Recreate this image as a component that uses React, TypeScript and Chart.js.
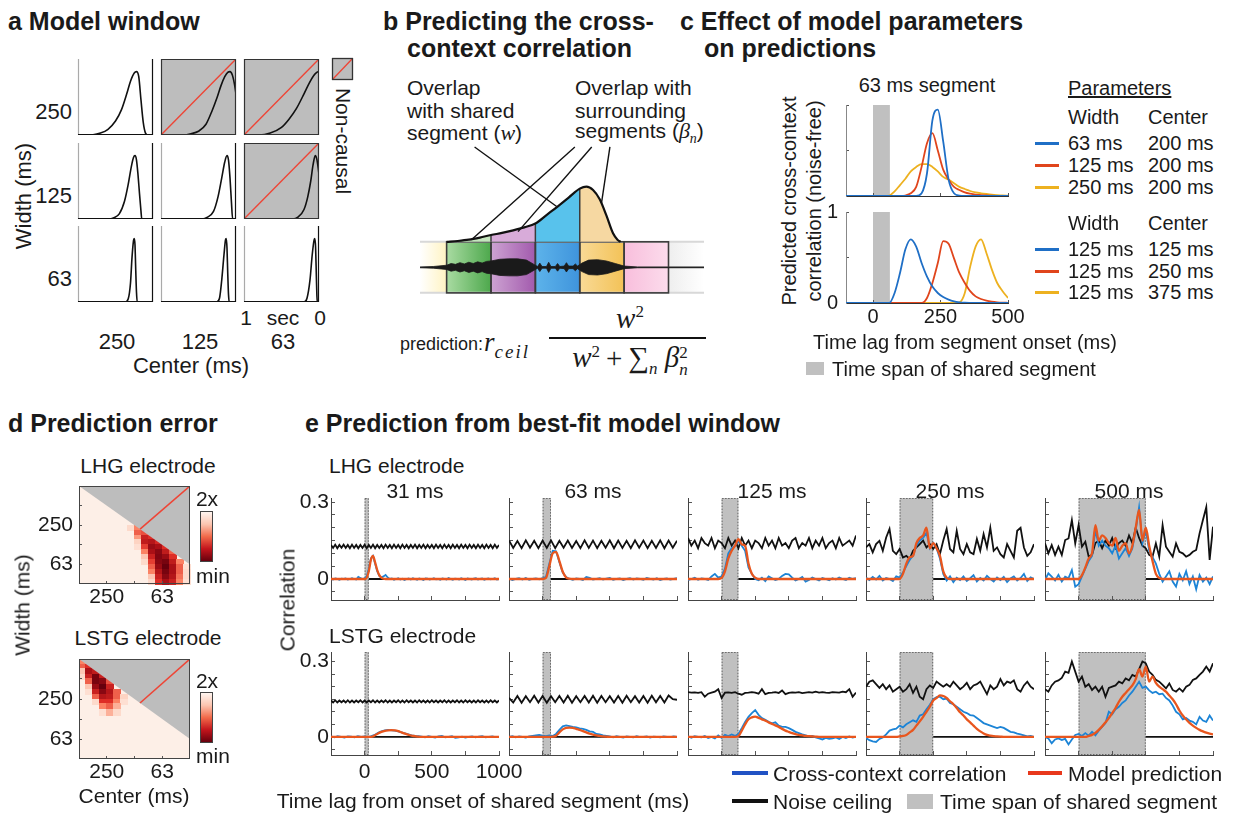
import React, { useEffect, useRef } from 'react';
import { Chart, registerables } from 'chart.js';

Chart.register(...registerables);

const FONT = '"Liberation Sans", Arial, Helvetica, sans-serif';
const MATH = '"Liberation Serif", "DejaVu Serif", serif';
Chart.defaults.font.family = FONT;
Chart.defaults.color = '#1a1a1a';

/* ============================ DATA ============================ */

// ---- Panel a: model windows as [time before present (s), weight] ----
const aWidthLabels = ['250', '125', '63'];
const aCenterLabels = ['250', '125', '63'];
const aNonCausal = [
  [false, true, true],
  [false, false, true],
  [false, false, false],
];
const winW250C250 = [[0, 0], [.07, 0], [.1, .03], [.13, .2], [.16, .55], [.19, .92], [.22, 1], [.25, .98], [.3, .85], [.35, .65], [.42, .4], [.5, .22], [.6, .09], [.7, .03], [.8, .005], [1, 0]];
const winW250C125 = [[0, .65], [.02, .8], [.05, .95], [.08, 1], [.11, .99], [.15, .92], [.2, .78], [.25, .6], [.32, .38], [.4, .17], [.5, .06], [.6, .02], [.7, 0], [1, 0]];
const winW250C63 = [[0, 1], [.03, .99], [.07, .94], [.13, .82], [.2, .65], [.3, .42], [.4, .25], [.5, .12], [.65, .03], [.8, 0], [1, 0]];
const winW125C250 = [[0, 0], [.15, 0], [.16, .12], [.18, .4], [.2, .7], [.22, .93], [.24, 1], [.26, .97], [.29, .82], [.33, .55], [.38, .28], [.45, .08], [.52, .02], [.6, 0], [1, 0]];
const winW125C125 = [[0, 0], [.045, 0], [.06, .25], [.08, .65], [.1, .93], [.12, 1], [.15, .9], [.19, .65], [.24, .35], [.3, .12], [.38, .03], [.45, 0], [1, 0]];
const winW125C63 = [[0, .7], [.01, .8], [.03, .95], [.05, 1], [.08, .85], [.11, .6], [.15, .35], [.2, .15], [.28, .03], [.35, 0], [1, 0]];
const winW63C250 = [[0, 0], [.21, 0], [.22, .15], [.23, .5], [.24, .9], [.25, 1], [.26, .97], [.28, .7], [.3, .3], [.33, .05], [.37, 0], [1, 0]];
const winW63C125 = [[0, 0], [.09, 0], [.1, .12], [.11, .45], [.12, .85], [.13, 1], [.14, .98], [.16, .75], [.19, .35], [.22, .06], [.26, 0], [1, 0]];
const winW63C63 = [[0, 0], [.022, 0], [.028, .1], [.035, .4], [.045, .85], [.055, 1], [.065, .98], [.09, .75], [.12, .35], [.16, .06], [.2, 0], [1, 0]];
const aWindows = [
  [winW250C250, winW250C125, winW250C63],
  [winW125C250, winW125C125, winW125C63],
  [winW63C250, winW63C125, winW63C63],
];
const aNonCausalDiag = [[1, 0], [0, 1.2]];

// ---- Panel b: schematic (x in segment units, y in window height units) ----
const bSegEdges = [-0.6, 0, 1, 2, 3, 4, 5, 5.8];
const bWindowX = [0, .25, .5, .75, 1, 1.25, 1.5, 1.75, 2, 2.25, 2.5, 2.75, 3, 3.15, 3.3, 3.45, 3.6, 3.75, 3.85, 3.92];
const bWindowY = [0, .02, .05, .1, .16, .21, .27, .34, .43, .63, .83, 1.04, 1.25, 1.3, 1.22, 1.0, .62, .2, .05, 0];
const bWaveX = [-0.6, -0.3, 0, .1, .2, .3, .4, .5, .6, .7, .8, .9, 1.0, 1.2, 1.4, 1.6, 1.8, 1.95, 2.05, 2.1, 2.15, 2.25, 2.3, 2.35, 2.45, 2.5, 2.55, 2.65, 2.7, 2.75, 2.85, 2.9, 2.95, 3.05, 3.2, 3.4, 3.6, 3.8, 4.0, 4.3, 5.0, 5.8];
const bWaveAmp = [.01, .02, .05, .09, .07, .11, .08, .12, .09, .13, .1, .14, .15, .19, .2, .2, .17, .08, .02, .1, .02, .02, .12, .02, .02, .09, .02, .03, .11, .03, .03, .08, .03, .1, .17, .18, .15, .09, .03, .01, .01, .01];
const bWaveLevel = -0.6;
const bLeaders = [
  [[.63, 2.23], [2.48, .83]],
  [[2.89, 2.23], [.56, .05]],
  [[3.27, 2.23], [1.61, .24]],
  [[3.68, 2.23], [3.49, .91]],
];

// ---- Panel c: predicted cross-context correlation ----
const cLag = [-100, -80, -60, -40, -20, 0, 20, 40, 60, 80, 100, 120, 140, 160, 180, 200, 220, 240, 260, 280, 300, 320, 340, 360, 380, 400, 420, 440, 460, 480, 500];
const cSegment = 62.5;
const cTopW63 = [0, 0, 0, 0, 0, 0, 0, 0, 0, 0, 0, 0, 0, 0, .03, .25, .83, .95, .6, .18, .03, .005, 0, 0, 0, 0, 0, 0, 0, 0, 0];
const cTopW125 = [0, 0, 0, 0, 0, 0, 0, 0, 0, 0, 0, .005, .03, .1, .32, .58, .69, .5, .29, .18, .1, .066, .04, .025, .015, .01, .006, .003, .002, .001, 0];
const cTopW250 = [0, 0, 0, 0, 0, 0, 0, 0, .005, .05, .12, .19, .27, .32, .35, .35, .32, .27, .21, .18, .14, .1, .077, .055, .04, .03, .022, .015, .01, .006, .004];
const cBotC125 = [0, 0, 0, 0, 0, 0, 0, 0, 0, .11, .33, .59, .7, .62, .44, .29, .18, .11, .066, .037, .018, .008, .003, .001, 0, 0, 0, 0, 0, 0, 0];
const cBotC250 = [0, 0, 0, 0, 0, 0, 0, 0, 0, 0, 0, 0, 0, 0, 0, .055, .22, .44, .68, .65, .49, .33, .22, .13, .073, .044, .026, .015, .008, .004, .002];
const cBotC375 = [0, 0, 0, 0, 0, 0, 0, 0, 0, 0, 0, 0, 0, 0, 0, 0, 0, 0, 0, 0, 0, .007, .11, .4, .62, .7, .55, .37, .22, .13, .055];
const cTopRows = [['63 ms', '200 ms'], ['125 ms', '200 ms'], ['250 ms', '200 ms']];
const cBotRows = [['125 ms', '125 ms'], ['125 ms', '250 ms'], ['125 ms', '375 ms']];
const cXTickValues = [0, 250, 500];
const cYTickValues = [0, .5, 1];
const cXTicks: [number, string][] = [[0, '0'], [250, '250'], [500, '500']];
const cYTicks: [number, string][] = [[0, '0'], [1, '1']];

// ---- Panel d: prediction error maps (u: octaves below 500 ms center, v: octaves above 31 ms width) ----
const dCenterOctaves = ['500', '250', '125', '63', '31'];
const dWidthOctaves = ['31', '63', '125', '250', '500', '1000'];
const dShownTicks = ['250', '63'];
const dCenterTickValues = [1, 2, 3];
const dWidthTickValues = [1, 2, 3, 4];
const dBoundary = [[0, 5], [4, 1]];
const dRedLine = [[2.2, 2.8], [4, 5]];
// [u, v, relative error (0 = min, 1 = 2x)]
const lhgErrCells = [
  [1.875, 2.875, .9], [2.125, 2.875, .7],
  [2.125, 2.625, .6], [2.375, 2.625, .55],
  [2.125, 2.375, .75], [2.375, 2.375, .35], [2.625, 2.375, .45],
  [2.125, 2.125, .88], [2.375, 2.125, .3], [2.625, 2.125, .25], [2.875, 2.125, .4],
  [2.125, 1.875, .92], [2.375, 1.875, .5], [2.625, 1.875, .15], [2.875, 1.875, .2], [3.125, 1.875, .45],
  [2.375, 1.625, .7], [2.625, 1.625, .2], [2.875, 1.625, .1], [3.125, 1.625, .3], [3.375, 1.625, .6],
  [2.375, 1.375, .85], [2.625, 1.375, .35], [2.875, 1.375, .08], [3.125, 1.375, .15], [3.375, 1.375, .45],
  [2.375, 1.125, .9], [2.625, 1.125, .5], [2.875, 1.125, .1], [3.125, 1.125, .05], [3.375, 1.125, .3], [3.625, 1.125, .7],
  [2.625, .875, .6], [2.875, .875, .15], [3.125, .875, 0], [3.375, .875, .2], [3.625, .875, .6], [3.875, .875, .92],
  [2.625, .625, .7], [2.875, .625, .25], [3.125, .625, .05], [3.375, .625, .2], [3.625, .625, .6], [3.875, .625, .9],
  [2.625, .375, .85], [2.875, .375, .35], [3.125, .375, .1], [3.375, .375, .25], [3.625, .375, .65], [3.875, .375, .9],
  [2.625, .125, .9], [2.875, .125, .45], [3.125, .125, .2], [3.375, .125, .35], [3.625, .125, .7], [3.875, .125, .92],
];
const lstgErrCells = [
  [.125, 4.875, .7],
  [.125, 4.625, .6], [.375, 4.625, .45],
  [.125, 4.375, .85], [.375, 4.375, .2], [.625, 4.375, .3],
  [.125, 4.125, .9], [.375, 4.125, .35], [.625, 4.125, .05], [.875, 4.125, .35],
  [.375, 3.875, .6], [.625, 3.875, .05], [.875, 3.875, .1], [1.125, 3.875, .55],
  [.375, 3.625, .85], [.625, 3.625, .15], [.875, 3.625, 0], [1.125, 3.625, .35],
  [.375, 3.375, .92], [.625, 3.375, .35], [.875, 3.375, .1], [1.125, 3.375, .25], [1.375, 3.375, .6],
  [.625, 3.125, .6], [.875, 3.125, .25], [1.125, 3.125, .3], [1.375, 3.125, .6], [1.625, 3.125, .88],
  [.625, 2.875, .9], [.875, 2.875, .45], [1.125, 2.875, .45], [1.375, 2.875, .7], [1.625, 2.875, .92],
  [.875, 2.625, .7], [1.125, 2.625, .6], [1.375, 2.625, .8],
  [.875, 2.375, .92], [1.125, 2.375, .8], [1.375, 2.375, .9],
];

// ---- Panel e: cross-context correlation vs lag ----
const eDurations = [31.25, 62.5, 125, 250, 500];
const eTitles = ['31 ms', '63 ms', '125 ms', '250 ms', '500 ms'];
const eRowNames = ['LHG electrode', 'LSTG electrode'];
const eXTickValues = [-250, 0, 250, 500, 750, 1000];
const eYTickValues = [-0.05, 0, .05, .1, .15, .2, .25, .3];
const eXTicks: [number, string][] = [[0, '0'], [500, '500'], [1000, '1000']];
const eYTicks: [number, string][] = [[0, '0'], [0.3, '0.3']];
const lagFine = Array.from({ length: 81 }, (_, i) => -250 + 15.625 * i);
const lagMid = Array.from({ length: 41 }, (_, i) => -250 + 31.25 * i);
const lag25 = Array.from({ length: 51 }, (_, i) => -250 + 25 * i);

const lhgNoise31 = [
  .133, .121, .134, .12, .133, .122, .134, .121, .133, .12,
  .134, .121, .133, .12, .133, .121, .134, .12, .133, .121,
  .134, .12, .133, .121, .133, .12, .134, .121, .133, .12,
  .134, .121, .133, .12, .134, .121, .133, .12, .133, .121,
  .134, .12, .133, .121, .134, .12, .133, .121, .133, .12,
  .134, .121, .133, .12, .134, .121, .133, .12, .134, .121,
  .133, .12, .134, .121, .133, .12, .134, .121, .133, .12,
  .134, .121, .133, .12, .134, .121, .133, .12, .134, .121,
  .133];
const lhgCorr31 = [
  0, -.002, .002, 0, -.003, .001, 0, .002, -.002, 0,
  .003, 0, -.002, .008, .004, 0, .002, .01, .04, .08,
  .09, .06, .03, .012, .006, .01, .016, .006, 0, .002,
  -.003, 0, .003, -.002, .001, -.004, 0, .002, -.002, .003,
  0, -.003, .002, 0, -.004, .002, .001, -.002, 0, .003,
  -.001, 0, -.003, .002, 0, -.002, .004, 0, -.003, .001,
  0, -.002, .003, 0, -.004, .002, 0, -.002, .001, .003,
  -.002, 0, .002, -.003, 0, .002, -.001, 0, .003, -.002,
  0];
const lhgModel31 = [
  0, 0, 0, 0, 0, 0, 0, 0, 0, 0,
  0, 0, 0, 0, 0, 0, 0, .005, .03, .075,
  .09, .065, .035, .015, .005, .001, 0, 0, 0, 0,
  0, 0, 0, 0, 0, 0, 0, 0, 0, 0,
  0, 0, 0, 0, 0, 0, 0, 0, 0, 0,
  0, 0, 0, 0, 0, 0, 0, 0, 0, 0,
  0, 0, 0, 0, 0, 0, 0, 0, 0, 0,
  0, 0, 0, 0, 0, 0, 0, 0, 0, 0,
  0];
const lhgNoise63 = [
  .15, .121, .148, .12, .151, .122, .149, .12, .15, .121,
  .151, .12, .149, .122, .15, .121, .148, .12, .151, .121,
  .15, .12, .149, .122, .151, .12, .15, .121, .149, .12,
  .151, .122, .15, .12, .149, .121, .151, .12, .15, .122,
  .149];
const lhgCorr63 = [
  .002, -.004, 0, .003, -.002, .004, -.003, 0, .002, -.001,
  .003, .008, .06, .11, .108, .065, .025, .008, 0, -.003,
  .002, 0, -.004, .008, .004, -.002, 0, .003, -.002, .001,
  .004, -.003, 0, .002, -.004, 0, .003, -.002, .002, 0,
  -.003, .004, 0, -.002, .003, -.004, 0, .002, -.002, 0,
  .003];
const lhgModel63 = [
  0, 0, 0, 0, 0, 0, 0, 0, 0, 0,
  0, .004, .05, .1, .106, .07, .028, .006, .001, 0,
  0, 0, 0, 0, 0, 0, 0, 0, 0, 0,
  0, 0, 0, 0, 0, 0, 0, 0, 0, 0,
  0, 0, 0, 0, 0, 0, 0, 0, 0, 0,
  0];
const lhgNoise125 = [
  .16, .13, .15, .12, .16, .14, .13, .16, .12, .15,
  .14, .12, .16, .13, .15, .12, .16, .13, .15, .12,
  .15, .14, .12, .16, .13, .15, .12, .16, .13, .14,
  .12, .15, .16, .12, .14, .13, .16, .12, .15, .13,
  .16, .12, .14, .15, .12, .16, .13, .14, .15, .13,
  .17];
const lhgCorr125 = [
  -.005, 0, .005, -.003, .002, 0, -.004, .01, .02, .005,
  .01, .04, .1, .12, .13, .15, .13, .11, .045, .02,
  0, -.005, .005, -.008, .01, .003, -.004, 0, .012, .02,
  .018, .005, -.006, 0, .008, -.01, -.004, .006, 0, -.006,
  .004, 0, -.005, .003, -.002, .006, 0, -.004, .005, 0,
  .003];
const lhgModel125 = [
  0, 0, 0, 0, 0, 0, 0, 0, 0, 0,
  .004, .03, .08, .11, .13, .155, .135, .13, .06, .02,
  .005, 0, 0, 0, 0, 0, 0, 0, 0, 0,
  0, 0, 0, 0, 0, 0, 0, 0, 0, 0,
  0, 0, 0, 0, 0, 0, 0, 0, 0, 0,
  0];
const lhgNoise250 = [
  .123, .136, .104, .136, .149, .11, .162, .195, .11, .097,
  .117, .084, .09, .078, .11, .123, .136, .15, .123, .136,
  .117, .136, .097, .15, .195, .117, .104, .188, .117, .097,
  .136, .104, .097, .156, .11, .175, .123, .2, .11, .123,
  .097, .084, .136, .11, .084, .188, .2, .123, .09, .104,
  .136];
const lhgCorr250 = [
  .005, -.004, .008, -.002, .012, -.006, .004, 0, -.008, .01,
  .005, .025, .05, .075, .09, .13, .15, .16, .18, .12,
  .14, .12, .08, .02, -.006, .01, -.012, .005, -.004, .01,
  -.008, .003, .015, -.01, .004, -.006, .012, 0, -.01, .006,
  -.004, .008, -.012, .002, .01, -.006, .004, .02, -.008, .006,
  0];
const lhgModel250 = [
  0, 0, 0, 0, 0, 0, 0, 0, 0, 0,
  0, .02, .06, .085, .09, .14, .16, .17, .2, .12,
  .14, .12, .09, .03, .005, 0, 0, 0, 0, 0,
  0, 0, 0, 0, 0, 0, 0, 0, 0, 0,
  0, 0, 0, 0, 0, 0, 0, 0, 0, 0,
  0];
const lhgNoise500 = [
  .139, .1, .132, .094, .126, .094, .152, .158, .23, .139,
  .21, .126, .145, .087, .094, .14, .15, .12, .15, .13,
  .16, .12, .14, .15, .13, .17, .14, .2, .16, .13,
  .12, .094, .087, .139, .087, .21, .126, .106, .087, .139,
  .106, .1, .087, .094, .106, .113, .178, .23, .28, .074,
  .204];
const lhgCorr500 = [
  -.004, .022, .009, -.006, .016, -.01, .009, .003, .035, -.03,
  -.02, .01, .04, .07, .09, .19, .13, .15, .13, .12,
  .1, .13, .08, .1, .12, .09, .12, .19, .28, .14,
  .19, .11, .085, .06, .02, -.01, .01, .03, -.01, -.03,
  .02, -.005, .03, -.02, .01, -.04, .015, -.01, .005, -.02,
  .01];
const lhgModel500 = [
  0, 0, 0, 0, 0, 0, 0, 0, 0, 0,
  0, .015, .045, .08, .1, .21, .15, .17, .16, .14,
  .13, .16, .11, .13, .14, .1, .13, .2, .27, .15,
  .2, .13, .07, .02, .004, 0, 0, 0, 0, 0,
  0, 0, 0, 0, 0, 0, 0, 0, 0, 0,
  0];

const lstgNoise31 = [
  .145, .137, .146, .137, .145, .138, .145, .137, .146, .137,
  .145, .137, .145, .138, .146, .137, .145, .137, .145, .138,
  .146, .137, .145, .137, .145, .138, .146, .137, .145, .137,
  .145, .138, .146, .137, .145, .137, .146, .138, .145, .137,
  .145, .137, .146, .138, .145, .137, .145, .137, .146, .138,
  .145, .137, .145, .138, .146, .137, .145, .137, .145, .138,
  .146, .137, .145, .137, .146, .138, .145, .137, .145, .137,
  .146, .138, .145, .137, .145, .137, .146, .138, .145, .137,
  .145];
const lstgCorr31 = [
  .002, -.002, .003, 0, -.003, .002, .001, -.002, .003, 0,
  .002, -.001, .003, .008, .016, .022, .026, .028, .026, .025,
  .022, .018, .014, .01, .006, .004, .003, .001, -.002, .003,
  0, -.003, .002, .004, -.002, 0, .003, -.004, -.002, .001,
  -.003, 0, .002, -.002, .001, .003, -.002, 0, .002, -.001,
  0];
const lstgModel31 = [
  0, 0, 0, 0, 0, 0, 0, 0, 0, 0,
  0, 0, 0, .006, .014, .02, .024, .026, .027, .026,
  .023, .018, .013, .009, .005, .003, .001, 0, 0, 0,
  0, 0, 0, 0, 0, 0, 0, 0, 0, 0,
  0, 0, 0, 0, 0, 0, 0, 0, 0, 0,
  0];
const lstgNoise63 = [
  .155, .137, .163, .136, .162, .138, .164, .137, .163, .136,
  .162, .138, .163, .137, .164, .136, .162, .138, .163, .137,
  .164, .136, .163, .138, .162, .137, .163, .136, .164, .138,
  .162, .137, .163, .136, .164, .138, .163, .137, .165, .15,
  .148];
const lstgCorr63 = [
  0, .003, -.002, .002, 0, -.003, .002, .004, .006, .008,
  .005, .003, .006, .004, .012, .028, .042, .046, .043, .04,
  .038, .034, .032, .028, .022, .02, .012, .01, .006, .004,
  .002, -.002, .003, 0, -.003, .002, 0, -.002, .003, -.001,
  0, .002, -.003, .001, 0, -.002, .002, 0, -.001, .002,
  0];
const lstgModel63 = [
  0, 0, 0, 0, 0, 0, 0, 0, 0, 0,
  0, 0, 0, .001, .005, .018, .03, .036, .037, .036,
  .032, .028, .023, .018, .013, .009, .006, .004, .002, .001,
  0, 0, 0, 0, 0, 0, 0, 0, 0, 0,
  0, 0, 0, 0, 0, 0, 0, 0, 0, 0,
  0];
const lstgNoise125 = [
  .178, .176, .177, .175, .178, .16, .172, .176, .18, .19,
  .155, .176, .177, .175, .178, .172, .168, .175, .176, .178,
  .176, .172, .19, .17, .175, .176, .178, .175, .185, .17,
  .175, .177, .176, .178, .174, .176, .178, .176, .18, .176,
  .178, .176, .175, .178, .177, .176, .18, .178, .19, .16,
  .176];
const lstgCorr125 = [
  .002, -.003, .003, 0, -.002, .004, -.004, 0, -.006, .006,
  -.004, .008, .003, .01, .004, .012, .035, .06, .08, .095,
  .107, .088, .075, .068, .06, .054, .058, .045, .04, .04,
  .035, .028, .02, .015, .01, .006, .002, .004, -.002, -.006,
  -.01, -.004, -.008, -.006, -.002, -.008, 0, -.004, .002, -.003,
  0];
const lstgModel125 = [
  0, 0, 0, 0, 0, 0, 0, 0, 0, 0,
  0, 0, 0, 0, 0, .003, .025, .05, .07, .078,
  .081, .076, .07, .065, .058, .052, .046, .04, .032, .025,
  .02, .015, .011, .008, .006, .004, .003, .002, .001, 0,
  0, 0, 0, 0, 0, 0, 0, 0, 0, 0,
  0];
const lstgNoise250 = [
  .2, .22, .225, .21, .195, .21, .19, .205, .18, .19,
  .2, .18, .19, .21, .175, .2, .16, .15, .19, .205,
  .195, .22, .21, .2, .21, .2, .22, .205, .19, .2,
  .215, .19, .205, .21, .22, .195, .17, .205, .19, .2,
  .23, .205, .22, .215, .225, .19, .18, .205, .22, .2,
  .19];
const lstgCorr250 = [
  -.004, -.013, -.018, -.02, -.008, -.002, .01, .025, .03, .033,
  .045, .038, .05, .058, .066, .06, .085, .09, .11, .128,
  .15, .158, .16, .15, .152, .135, .13, .12, .11, .1,
  .095, .087, .085, .075, .065, .055, .05, .045, .04, .035,
  .04, .036, .028, .02, .018, .013, .01, .006, .002, .004,
  0];
const lstgModel250 = [
  0, 0, 0, 0, 0, 0, 0, 0, 0, 0,
  .002, .004, .008, .018, .028, .045, .062, .08, .1, .12,
  .145, .155, .165, .163, .155, .142, .13, .115, .098, .085,
  .07, .058, .045, .032, .022, .014, .008, .005, .003, .002,
  .001, 0, 0, 0, 0, 0, 0, 0, 0, 0,
  0];
const lstgNoise500 = [
  .19, .18, .205, .22, .225, .235, .26, .255, .3, .26,
  .22, .24, .2, .21, .187, .2, .18, .2, .16, .195,
  .2, .205, .22, .213, .233, .225, .247, .24, .27, .3,
  .293, .26, .247, .227, .22, .207, .193, .213, .187, .18,
  .193, .18, .2, .207, .227, .233, .247, .26, .28, .26,
  .293];
const lstgCorr500 = [
  0, -.006, -.025, -.01, -.006, -.012, -.008, -.03, -.01, .008,
  .012, .004, .015, .005, .02, .006, .025, .04, .055, .1,
  .09, .11, .12, .135, .145, .165, .18, .2, .22, .195,
  .2, .185, .175, .18, .17, .172, .155, .145, .125, .1,
  .09, .07, .075, .065, .06, .05, .08, .065, .06, .085,
  .065];
const lstgModel500 = [
  0, 0, 0, 0, 0, 0, 0, 0, 0, 0,
  0, 0, 0, .004, .008, .016, .028, .042, .058, .075,
  .095, .115, .14, .16, .175, .19, .205, .23, .27, .24,
  .28, .22, .24, .215, .2, .19, .18, .165, .15, .13,
  .105, .085, .07, .056, .045, .036, .028, .022, .017, .013,
  .01];

const eSeries = [
  [
    { nx: lagFine, noise: lhgNoise31, cx: lagFine, corr: lhgCorr31, mx: lagFine, model: lhgModel31 },
    { nx: lagMid, noise: lhgNoise63, cx: lag25, corr: lhgCorr63, mx: lag25, model: lhgModel63 },
    { nx: lag25, noise: lhgNoise125, cx: lag25, corr: lhgCorr125, mx: lag25, model: lhgModel125 },
    { nx: lag25, noise: lhgNoise250, cx: lag25, corr: lhgCorr250, mx: lag25, model: lhgModel250 },
    { nx: lag25, noise: lhgNoise500, cx: lag25, corr: lhgCorr500, mx: lag25, model: lhgModel500 },
  ],
  [
    { nx: lagFine, noise: lstgNoise31, cx: lag25, corr: lstgCorr31, mx: lag25, model: lstgModel31 },
    { nx: lagMid, noise: lstgNoise63, cx: lag25, corr: lstgCorr63, mx: lag25, model: lstgModel63 },
    { nx: lag25, noise: lstgNoise125, cx: lag25, corr: lstgCorr125, mx: lag25, model: lstgModel125 },
    { nx: lag25, noise: lstgNoise250, cx: lag25, corr: lstgCorr250, mx: lag25, model: lstgModel250 },
    { nx: lag25, noise: lstgNoise500, cx: lag25, corr: lstgCorr500, mx: lag25, model: lstgModel500 },
  ],
];

/* ============================ STYLES / LAYOUT ============================ */
const C_CORR = '#1c84d6';
const C_MODEL = '#e8561e';
const C_SPAN = '#c0c0c0';
const C_NONCAUSAL = '#bdbdbd';
const C_RED = '#ee4536';
const cColors = ['#1f6fc6', '#e0451c', '#edb120'];
const bSegFills = [
  ['#ffffff', '#fff3c2'], ['#a9dba2', '#4da84c'], ['#cda3d2', '#a25aad'], ['#5db3ea', '#3f94dc'],
  ['#f9da96', '#f3c257'], ['#f8bedc', '#fcdcec'], ['#eeeeee', '#ffffff'],
];
const bRegionFills = ['#c4e6bd', '#d8abd9', '#58c2ec', '#f6d8a2'];
const ERR_STOPS: [number, number[]][] = [[0, [103, 0, 13]], [.2, [170, 16, 22]], [.45, [222, 45, 38]], [.7, [251, 130, 100]], [.88, [253, 212, 195]], [1, [255, 245, 240]]];
const ERR_BG = '#fdefe7';

const errColor = (e: number) => {
  for (let i = 1; i < ERR_STOPS.length; i++) {
    const [p1, c1] = ERR_STOPS[i];
    const [p0, c0] = ERR_STOPS[i - 1];
    if (e <= p1) {
      const f = (e - p0) / (p1 - p0);
      const c = c0.map((v, k) => Math.round(v + (c1[k] - v) * f));
      return `rgb(${c[0]},${c[1]},${c[2]})`;
    }
  }
  return '#fff5f0';
};

/* ============================ HELPERS ============================ */
const xy = (xs: number[], ys: number[]) => ys.map((y, i) => ({ x: xs[i], y }));
const pairs = (p: number[][]) => p.map(([x, y]) => ({ x, y }));
const line = (data: any[], color: string, width: number, extra: any = {}) => ({
  data, borderColor: color, borderWidth: width, pointRadius: 0, fill: false, tension: 0, ...extra,
});

const hiddenAxis = (min: number, max: number, reverse = false) => ({
  type: 'linear', min, max, reverse, display: true,
  grid: { display: false, drawTicks: false }, border: { display: false }, ticks: { display: false },
});

const tickAxis = (min: number, max: number, values: number[], o: any) => ({
  type: 'linear', min, max, display: true,
  afterBuildTicks: (s: any) => { s.ticks = values.map((v) => ({ value: v })); },
  border: o.border ? { display: true, color: o.border, width: 1 } : { display: false },
  grid: { display: true, drawOnChartArea: false, drawTicks: true, tickLength: -(o.tl ?? 3), color: o.tc ?? '#555', lineWidth: 1 },
  ticks: {
    display: !!o.show, autoSkip: false, maxRotation: 0, minRotation: 0, padding: o.pad ?? 4,
    font: { size: o.size ?? 21 }, color: '#1a1a1a',
    callback: (v: number) => {
      const f = (o.labels || []).find((t: [number, string]) => Math.abs(t[0] - v) < 1e-6);
      return f ? f[1] : '';
    },
  },
});

function decor(d: any) {
  return {
    id: 'decor',
    beforeDraw(chart: any) {
      const { ctx, chartArea: a, scales } = chart;
      const X = scales.x, Y = scales.y;
      ctx.save();
      if (d.bg) { ctx.fillStyle = d.bg; ctx.fillRect(a.left, a.top, a.right - a.left, a.bottom - a.top); }
      if (d.cells) {
        for (const c of d.cells) {
          const x0 = X.getPixelForValue(c[0] - d.du / 2), x1 = X.getPixelForValue(c[0] + d.du / 2);
          const y0 = Y.getPixelForValue(c[1] + d.dv / 2), y1 = Y.getPixelForValue(c[1] - d.dv / 2);
          ctx.fillStyle = errColor(c[2]);
          ctx.fillRect(Math.floor(x0), Math.floor(y0), Math.ceil(x1 - x0) + 1, Math.ceil(y1 - y0) + 1);
        }
      }
      for (const s of d.spans || []) {
        const x0 = X.getPixelForValue(s.from), x1 = X.getPixelForValue(s.to);
        ctx.fillStyle = s.color;
        ctx.fillRect(x0, a.top, x1 - x0, a.bottom - a.top);
        if (s.dotted) {
          ctx.strokeStyle = s.dotted; ctx.lineWidth = 1; ctx.setLineDash([1.5, 1.5]);
          ctx.strokeRect(x0 + .5, a.top + .5, x1 - x0 - 1, a.bottom - a.top - 1);
          ctx.setLineDash([]);
        }
      }
      if (d.segs) {
        const g = d.segs;
        const yt = Y.getPixelForValue(g.top), yb = Y.getPixelForValue(g.bottom);
        for (let i = 0; i < g.edges.length - 1; i++) {
          const x0 = X.getPixelForValue(g.edges[i]), x1 = X.getPixelForValue(g.edges[i + 1]);
          const grad = ctx.createLinearGradient(x0, 0, x1, 0);
          grad.addColorStop(0, g.fills[i][0]); grad.addColorStop(1, g.fills[i][1]);
          ctx.fillStyle = grad; ctx.fillRect(x0, yt, x1 - x0, yb - yt);
        }
        ctx.strokeStyle = '#d8d8d8'; ctx.lineWidth = 2;
        ctx.beginPath(); ctx.moveTo(a.left, yt); ctx.lineTo(a.right, yt); ctx.moveTo(a.left, yb); ctx.lineTo(a.right, yb); ctx.stroke();
        ctx.strokeStyle = '#3c3c3c'; ctx.lineWidth = 1.6;
        for (let i = 1; i < g.edges.length - 2; i++) {
          const x0 = X.getPixelForValue(g.edges[i]), x1 = X.getPixelForValue(g.edges[i + 1]);
          ctx.strokeRect(x0, yt, x1 - x0, yb - yt);
        }
      }
      ctx.restore();
    },
    afterDraw(chart: any) {
      if (!d.frame) return;
      const { ctx, chartArea: a } = chart;
      const f = d.frame;
      ctx.save();
      ctx.lineWidth = f.w ?? 1;
      const seg = (x0: number, y0: number, x1: number, y1: number, c?: string) => {
        if (!c) return;
        ctx.strokeStyle = c; ctx.beginPath(); ctx.moveTo(x0, y0); ctx.lineTo(x1, y1); ctx.stroke();
      };
      const L = a.left + .5, R = a.right - .5, T = a.top + .5, B = a.bottom - .5;
      seg(L, a.top, L, a.bottom, f.l); seg(R, a.top, R, a.bottom, f.r);
      seg(a.left, T, a.right, T, f.t); seg(a.left, B, a.right, B, f.b);
      ctx.restore();
    },
  };
}

function Plot({ x, y, w, h, pad, make }: any) {
  const ref = useRef<HTMLCanvasElement>(null);
  const [l, t, r, b] = pad || [2, 2, 2, 2];
  useEffect(() => {
    const cfg = make();
    const zero = (s: any) => { s.paddingLeft = 0; s.paddingRight = 0; s.paddingTop = 0; s.paddingBottom = 0; };
    const sc = cfg.options.scales;
    sc.x.afterFit = (s: any) => { s.height = b; zero(s); };
    sc.y.afterFit = (s: any) => { s.width = l; zero(s); };
    cfg.options.layout = { padding: { left: 0, top: t, right: r, bottom: 0 } };
    cfg.options.responsive = false;
    cfg.options.maintainAspectRatio = false;
    cfg.options.animation = false;
    cfg.options.events = [];
    cfg.options.plugins = { legend: { display: false }, tooltip: { enabled: false }, title: { display: false } };
    const chart = new Chart(ref.current as HTMLCanvasElement, cfg);
    return () => chart.destroy();
  }, []);
  const W = w + l + r, H = h + t + b;
  return <canvas ref={ref} width={W} height={H} style={{ position: 'absolute', left: x - l, top: y - t, width: W, height: H }} />;
}

function T({ x, y, s = 21, b = false, a = 'l', r = 0, c = '#1a1a1a', f = FONT, st = {}, children }: any) {
  const tx = a === 'l' ? '0' : a === 'c' ? '-50%' : '-100%';
  return (
    <div style={{
      position: 'absolute', left: x, top: y, transform: `translate(${tx}, -50%)${r ? ` rotate(${r}deg)` : ''}`,
      fontFamily: f, fontSize: s, fontWeight: b ? 700 : 400, whiteSpace: 'nowrap', lineHeight: 1, color: c, ...st,
    }}>{children}</div>
  );
}

const Box = ({ x, y, w, h, bg, st = {} }: any) => (
  <div style={{ position: 'absolute', left: x, top: y, width: w, height: h, background: bg, ...st }} />
);
const MI = ({ children, s }: any) => <span style={{ fontFamily: MATH, fontStyle: 'italic', fontSize: s }}>{children}</span>;

/* ============================ CHART BUILDERS ============================ */
const aX = [78, 161, 244];
const aY = [59, 143, 226];
const aW = 75, aH = 76;

function aChart(r: number, c: number) {
  const nc = aNonCausal[r][c];
  return () => ({
    type: 'line',
    data: {
      datasets: [
        line(pairs(aWindows[r][c]), '#111', 1.6, { cubicInterpolationMode: 'monotone' }),
        ...(nc ? [line(pairs(aNonCausalDiag), C_RED, 1.4)] : []),
      ],
    },
    options: { scales: { x: hiddenAxis(0, 1, true), y: hiddenAxis(0, 1.2) } },
    plugins: [decor(nc
      ? { bg: C_NONCAUSAL, frame: { l: '#333', r: '#333', t: '#333', b: '#333', w: 1.2 } }
      : { frame: { l: '#aaa', r: '#111', b: '#111', w: 1.2 } })],
  });
}

function aLegendChart() {
  return () => ({
    type: 'line',
    data: { datasets: [line(pairs(aNonCausalDiag), C_RED, 1.4)] },
    options: { scales: { x: hiddenAxis(0, 1, true), y: hiddenAxis(0, 1.2) } },
    plugins: [decor({ bg: C_NONCAUSAL, frame: { l: '#333', r: '#333', t: '#333', b: '#333', w: 1.3 } })],
  });
}

function bChart() {
  const pts = xy(bWindowX, bWindowY);
  const end = bWindowX[bWindowX.length - 1];
  const inner = bSegEdges.filter((e) => e > 0 && e < end);
  const regions = [[0, 1], [1, 2], [2, 3], [3, end]];
  return () => ({
    type: 'line',
    data: {
      datasets: [
        ...bLeaders.map((l) => line(pairs(l), '#111', 1.4)),
        line(pts, '#111', 2.2, { cubicInterpolationMode: 'monotone' }),
        ...inner.map((e) => line([{ x: e, y: 0 }, { x: e, y: bWindowY[bWindowX.indexOf(e)] }], '#3c3c3c', 1.5)),
        ...regions.map(([lo, hi], k) => line(pts.filter((p) => p.x >= lo - 1e-9 && p.x <= hi + 1e-9), 'rgba(0,0,0,0)', 0,
          { fill: 'origin', backgroundColor: bRegionFills[k], cubicInterpolationMode: 'monotone' })),
        line(xy(bWaveX, bWaveAmp.map((v) => bWaveLevel + v)), '#1a1a1a', .8, { fill: '+1', backgroundColor: '#1a1a1a' }),
        line(xy(bWaveX, bWaveAmp.map((v) => bWaveLevel - v)), '#1a1a1a', .8),
        line([{ x: bSegEdges[0], y: bWaveLevel }, { x: bSegEdges[bSegEdges.length - 1], y: bWaveLevel }], '#b8b8b8', 1),
      ],
    },
    options: { scales: { x: hiddenAxis(-0.6, 5.8), y: hiddenAxis(-1.25, 2.3) } },
    plugins: [decor({ segs: { edges: bSegEdges, top: 0, bottom: -1.2, fills: bSegFills } })],
  });
}

function cChart(series: number[][], bottom: boolean) {
  return () => ({
    type: 'line',
    data: { datasets: series.map((ys, k) => line(xy(cLag, ys), cColors[k], 1.8, { cubicInterpolationMode: 'monotone' })) },
    options: {
      scales: {
        x: tickAxis(-100, 500, cXTickValues, { show: bottom, labels: cXTicks, pad: 5, size: 20, border: '#333', tl: 3 }),
        y: tickAxis(0, 1, cYTickValues, { show: bottom, labels: cYTicks, pad: 11, size: 20, border: '#888', tl: 3 }),
      },
    },
    plugins: [decor({ spans: [{ from: 0, to: cSegment, color: C_SPAN }] })],
  });
}

function dChart(cells: number[][]) {
  return () => ({
    type: 'line',
    data: {
      datasets: [
        line(pairs(dRedLine), C_RED, 1.6),
        line(pairs(dBoundary), 'rgba(0,0,0,0)', 0, { fill: 'end', backgroundColor: C_NONCAUSAL }),
      ],
    },
    options: {
      scales: {
        x: tickAxis(0, 4, dCenterTickValues, { show: true, labels: dCenterOctaves.map((s, i) => [i, dShownTicks.includes(s) ? s : '']), pad: 4, tl: 3 }),
        y: tickAxis(0, 5, dWidthTickValues, { show: true, labels: dWidthOctaves.map((s, i) => [i, dShownTicks.includes(s) ? s : '']), pad: 9, tl: 3 }),
      },
    },
    plugins: [decor({ bg: ERR_BG, cells, du: .25, dv: .25, frame: { l: '#444', r: '#444', t: '#444', b: '#444', w: 1 } })],
  });
}

const eX = [331, 509, 688, 866, 1045];
const eW = 168;
const eRowsY = [{ y: 498, h: 102 }, { y: 652, h: 103 }];
const eYRange = [[-0.082, 0.316], [-0.072, 0.338]];

function eChart(row: number, col: number) {
  const s = eSeries[row][col];
  const dur = eDurations[col];
  const [ymin, ymax] = eYRange[row];
  return () => ({
    type: 'line',
    data: {
      datasets: [
        line(xy(s.mx, s.model), C_MODEL, 2.3, { cubicInterpolationMode: 'monotone' }),
        line(xy(s.cx, s.corr), C_CORR, 1.8),
        line([{ x: dur, y: 0 }, { x: 1000, y: 0 }], '#111', 1.8),
        line(xy(s.nx, s.noise), '#111', 1.8),
      ],
    },
    options: {
      scales: {
        x: tickAxis(-250, 1000, eXTickValues, { show: row === 1 && col === 0, labels: eXTicks, pad: 9, tl: 4, border: '#444' }),
        y: tickAxis(ymin, ymax, eYTickValues, { show: col === 0, labels: eYTicks, pad: 6, tl: 4, border: '#444' }),
      },
    },
    plugins: [decor({ spans: [{ from: 0, to: dur, color: C_SPAN, dotted: '#666' }] })],
  });
}

/* ============================ APP ============================ */
export default function App() {
  return (
    <div style={{ position: 'absolute', left: 0, top: 0, width: 1243, height: 815, background: '#fff', overflow: 'hidden', color: '#1a1a1a' }}>
      {/* ---------- Panel a ---------- */}
      <T x={8} y={21} s={25} b>a Model window</T>
      {aY.map((yy, r) => aX.map((xx, c) => (
        <Plot key={`a${r}${c}`} x={xx} y={yy} w={aW} h={aH} make={aChart(r, c)} />
      )))}
      {aWidthLabels.map((l, r) => <T key={`aw${r}`} x={72} y={aY[r] + 53} a="r" s={22}>{l}</T>)}
      {aCenterLabels.map((l, c) => <T key={`ac${c}`} x={aX[c] + 39} y={342} a="c" s={22}>{l}</T>)}
      <T x={24} y={196} a="c" r={-90} s={22}>Width (ms)</T>
      <T x={191} y={366} a="c" s={22}>Center (ms)</T>
      <T x={246} y={317} a="c" s={21}>1</T>
      <T x={283} y={317} a="c" s={21}>sec</T>
      <T x={320} y={317} a="c" s={21}>0</T>
      <Plot x={332} y={58} w={21} h={22} make={aLegendChart()} />
      <T x={343} y={141} a="c" r={90} s={21}>Non-causal</T>

      {/* ---------- Panel b ---------- */}
      <T x={383} y={21} s={25} b>b Predicting the cross-</T>
      <T x={407} y={48} s={25} b>context correlation</T>
      <T x={407} y={87}>Overlap</T>
      <T x={407} y={110}>with shared</T>
      <T x={407} y={133}>segment (<MI s={22}>w</MI>)</T>
      <T x={575} y={87}>Overlap with</T>
      <T x={575} y={110}>surrounding</T>
      <T x={575} y={133}>segments (<MI s={22}>β</MI><sub style={{ fontFamily: MATH, fontStyle: 'italic', fontSize: 14 }}>n</sub>)</T>
      <Plot x={420} y={144} w={284} h={151} pad={[0, 0, 0, 0]} make={bChart()} />
      <T x={400} y={344} s={18}>prediction:</T>
      <T x={484} y={342} f={MATH} s={27} st={{ fontStyle: 'italic' }}>r<span style={{ fontSize: 19, position: 'relative', top: 7, letterSpacing: 2 }}>ceil</span></T>
      <Box x={549} y={337} w={157} h={1.5} bg="#111" />
      <T x={630} y={318} a="c" f={MATH} s={29}><i>w</i><sup style={{ fontSize: 17 }}>2</sup></T>
      <T x={630} y={360} a="c" f={MATH} s={29}>
        <i>w</i><sup style={{ fontSize: 17 }}>2</sup><span style={{ margin: '0 6px' }}>+</span>∑<sub style={{ fontSize: 17, fontStyle: 'italic' }}>n</sub> <i>β</i>
        <span style={{ display: 'inline-flex', flexDirection: 'column', fontSize: 17, lineHeight: 1, verticalAlign: 'middle' }}>
          <span>2</span><span style={{ fontStyle: 'italic' }}>n</span>
        </span>
      </T>

      {/* ---------- Panel c ---------- */}
      <T x={680} y={21} s={25} b>c Effect of model parameters</T>
      <T x={704} y={48} s={25} b>on predictions</T>
      <T x={927} y={85} a="c" s={20}>63 ms segment</T>
      <T x={789} y={201} a="c" r={-90} s={20}>Predicted cross-context</T>
      <T x={814} y={201} a="c" r={-90} s={20}>correlation (noise-free)</T>
      <Plot x={846} y={105} w={162} h={91} pad={[40, 4, 26, 30]} make={cChart([cTopW63, cTopW125, cTopW250], false)} />
      <Plot x={846} y={212} w={162} h={91} pad={[40, 16, 26, 30]} make={cChart([cBotC125, cBotC250, cBotC375], true)} />
      <T x={965} y={342} a="c" s={20}>Time lag from segment onset (ms)</T>
      <Box x={806} y={362} w={18} h={13} bg={C_SPAN} />
      <T x={832} y={369} s={20}>Time span of shared segment</T>
      <T x={1068} y={88} s={20} st={{ textDecoration: 'underline' }}>Parameters</T>
      <T x={1068} y={117} s={20}>Width</T>
      <T x={1148} y={117} s={20}>Center</T>
      {cTopRows.map((rw, k) => (
        <React.Fragment key={`ct${k}`}>
          <Box x={1035} y={[143, 165, 187][k] - 1} w={24} h={2.5} bg={cColors[k]} />
          <T x={1068} y={[143, 165, 187][k]} s={20}>{rw[0]}</T>
          <T x={1148} y={[143, 165, 187][k]} s={20}>{rw[1]}</T>
        </React.Fragment>
      ))}
      <T x={1068} y={223} s={20}>Width</T>
      <T x={1148} y={223} s={20}>Center</T>
      {cBotRows.map((rw, k) => (
        <React.Fragment key={`cb${k}`}>
          <Box x={1035} y={[249, 271, 292][k] - 1} w={24} h={2.5} bg={cColors[k]} />
          <T x={1068} y={[249, 271, 292][k]} s={20}>{rw[0]}</T>
          <T x={1148} y={[249, 271, 292][k]} s={20}>{rw[1]}</T>
        </React.Fragment>
      ))}

      {/* ---------- Panel d ---------- */}
      <T x={8} y={423} s={25} b>d Prediction error</T>
      <T x={148} y={465} a="c">LHG electrode</T>
      <Plot x={79} y={486} w={111} h={98} pad={[48, 4, 6, 30]} make={dChart(lhgErrCells)} />
      <T x={148} y={637} a="c">LSTG electrode</T>
      <Plot x={79} y={659} w={111} h={100} pad={[48, 4, 6, 30]} make={dChart(lstgErrCells)} />
      {[[498, 511, 575], [680, 692, 755]].map(([ly, by, my], k) => (
        <React.Fragment key={`cbar${k}`}>
          <T x={207} y={ly} a="c">2x</T>
          <Box x={200} y={by} w={13} h={51} bg="linear-gradient(to bottom, #fff5f0 0%, #fcc5b0 25%, #f26a4a 50%, #c3151c 75%, #67000d 100%)" st={{ border: '1px solid #444', boxSizing: 'border-box' }} />
          <T x={213} y={my} a="c">min</T>
        </React.Fragment>
      ))}
      <T x={22} y={605} a="c" r={-90}>Width (ms)</T>
      <T x={134} y={795} a="c">Center (ms)</T>

      {/* ---------- Panel e ---------- */}
      <T x={305} y={423} s={25} b>e Prediction from best-fit model window</T>
      {eRowsY.map((rw, r) => (
        <React.Fragment key={`er${r}`}>
          <T x={329} y={r === 0 ? 465 : 635}>{eRowNames[r]}</T>
          {eX.map((xx, c) => (
            <Plot key={`e${r}${c}`} x={xx} y={rw.y} w={eW} h={rw.h} pad={[44, 6, 30, 34]} make={eChart(r, c)} />
          ))}
        </React.Fragment>
      ))}
      {eTitles.map((t, c) => <T key={`et${c}`} x={eX[c] + 84} y={490} a="c">{t}</T>)}
      <T x={287} y={600} a="c" r={-90}>Correlation</T>
      <T x={483} y={800} a="c">Time lag from onset of shared segment (ms)</T>
      <Box x={732} y={771} w={36} h={4} bg="#2152c4" />
      <T x={773} y={773}>Cross-context correlation</T>
      <Box x={1028} y={771} w={34} h={4} bg="#e8381c" />
      <T x={1068} y={773}>Model prediction</T>
      <Box x={732} y={799} w={36} h={4} bg="#111" />
      <T x={773} y={801}>Noise ceiling</T>
      <Box x={907} y={794} w={26} h={15} bg={C_SPAN} />
      <T x={940} y={801}>Time span of shared segment</T>
    </div>
  );
}
